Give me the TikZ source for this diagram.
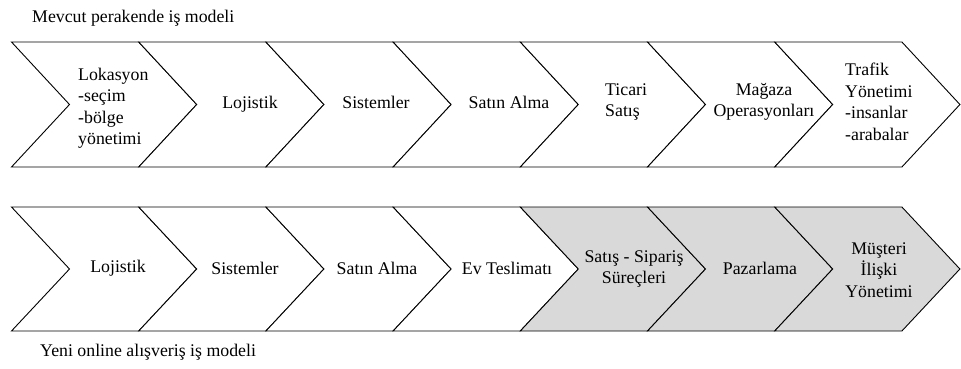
\documentclass[tikz,border=0pt]{standalone}
\usepackage{fontspec}
\setmainfont{Liberation Serif}
\newfontfamily\tnr{Liberation Serif}
\begin{document}
\begin{tikzpicture}[x=1pt,y=-1pt,
  chev/.style={draw=black,line width=0.9pt,line join=miter,fill=white},
  chevgray/.style={chev,fill=gray85},
  lbl/.style={font=\tnr\fontsize{17.8}{21.5}\selectfont,inner sep=0pt,text=black},
  lblL/.style={lbl,align=left,anchor=west},
  lblC/.style={lbl,align=center}]
\definecolor{gray85}{HTML}{D9D9D9}
\useasboundingbox (0,0) rectangle (961,369);
\def\xo{11.5}\def\w{127.2}\def\d{58}
% top row
\foreach \i in {0,...,6}{
  \pgfmathsetmacro\xa{\xo+\i*\w}\pgfmathsetmacro\xb{\xo+(\i+1)*\w}
  \draw[chev] (\xa,42) -- (\xb,42) -- (\xb+\d,104.5) -- (\xb,167) -- (\xa,167) -- (\xa+\d,104.5) -- cycle;
}
% bottom row
\foreach \i in {0,...,6}{
  \pgfmathsetmacro\xa{\xo+\i*\w}\pgfmathsetmacro\xb{\xo+(\i+1)*\w}
  \ifnum\i>3
    \draw[chevgray] (\xa,207) -- (\xb,207) -- (\xb+\d,269) -- (\xb,331) -- (\xa,331) -- (\xa+\d,269) -- cycle;
  \else
    \draw[chev] (\xa,207) -- (\xb,207) -- (\xb+\d,269) -- (\xb,331) -- (\xa,331) -- (\xa+\d,269) -- cycle;
  \fi
}
% titles
\node[lblL] (titleTop) at (32,18) {Mevcut perakende iş modeli};
\node[lblL] (titleBot) at (40,352) {Yeni online alışveriş iş modeli};
% top labels
\node[lblL] (t1) at (78,108) {Lokasyon\\-seçim\\-bölge\\yönetimi};
\node[lblC] (t2) at (250,104) {Lojistik};
\node[lblC] (t3) at (376,102) {Sistemler};
\node[lblC] (t4) at (509,102) {Satın Alma};
\node[lblL] (t5) at (605,102) {Ticari\\Satış};
\node[lblC] (t6) at (764,102) {Mağaza\\Operasyonları};
\node[lblL] (t7) at (845,102) {Trafik\\Yönetimi\\-insanlar\\-arabalar};
% bottom labels
\node[lblC] (b1) at (118,268) {Lojistik};
\node[lblC] (b2) at (245,268) {Sistemler};
\node[lblC] (b3) at (377,268) {Satın Alma};
\node[lblC] (b4) at (507,268) {Ev Teslimatı};
\node[lblC] (b5) at (634,269) {Satış - Sipariş\\Süreçleri};
\node[lblC] (b6) at (760,268) {Pazarlama};
\node[lblC] (b7) at (879,270) {Müşteri\\İlişki\\Yönetimi};
\end{tikzpicture}
\end{document}
